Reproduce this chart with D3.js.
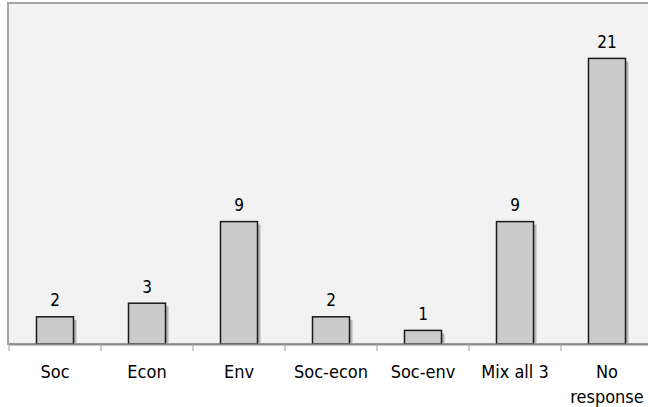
<!DOCTYPE html>
<html><head><meta charset="utf-8">
<script src="https://cdn.jsdelivr.net/npm/d3@7"></script>
<style>body{margin:0;background:#fff;}svg{display:block;}</style>
</head><body>
<script>
const categories = ["Soc","Econ","Env","Soc-econ","Soc-env","Mix all 3","No response"];
const values = [2,3,9,2,1,9,21];
const yMax = 25;

(function(){
const W = 648, H = 407;
const mLeft = 9, mTop = 4, mBottom = 344, bandW = 92;
const font = "'DejaVu Sans Condensed', 'DejaVu Sans', sans-serif";
const svg = d3.select("body").append("svg").attr("width", W).attr("height", H);

const x = d3.scaleBand().domain(categories).range([mLeft, mLeft + bandW * categories.length]).paddingInner(0).paddingOuter(0);
const y = d3.scaleLinear().domain([0, yMax]).range([mBottom, mTop]);

svg.append("rect").attr("x", mLeft - 1).attr("y", mTop - 1).attr("width", W).attr("height", mBottom - mTop + 1)
  .attr("fill", "#f2f2f2").attr("stroke", "#a6a6a6").attr("stroke-width", 2);

const barW = 37;
const g = svg.append("g");
g.selectAll("rect.sh").data(values).join("rect").attr("class","sh")
  .attr("x", (d,i) => x(categories[i]) + x.bandwidth()/2 - barW/2 + 3)
  .attr("y", d => y(d) + 3)
  .attr("width", barW).attr("height", d => mBottom - y(d) - 3)
  .attr("fill", "#b4b4b4");
g.selectAll("rect.bar").data(values).join("rect").attr("class","bar")
  .attr("x", (d,i) => x(categories[i]) + x.bandwidth()/2 - barW/2)
  .attr("y", d => y(d))
  .attr("width", barW).attr("height", d => mBottom - y(d))
  .attr("fill", "#cbcbcb").attr("stroke", "#1a1a1a").attr("stroke-width", 1.5);

g.selectAll("text.val").data(values).join("text").attr("class","val")
  .attr("x", (d,i) => x(categories[i]) + x.bandwidth()/2)
  .attr("y", d => y(d) - 10.5)
  .attr("text-anchor", "middle")
  .attr("font-family", font).attr("font-size", 17).attr("fill", "#000")
  .text(d => d);

const axis = d3.axisBottom(x).tickSize(0).tickFormat("");
const ax = svg.append("g").attr("transform", `translate(0,${mBottom})`).call(axis);
ax.select(".domain").attr("stroke", "#8c8c8c").attr("stroke-width", 2);
const bounds = d3.range(categories.length + 1).map(i => mLeft + i * x.step());
svg.append("g").selectAll("line").data(bounds).join("line")
  .attr("x1", d => d).attr("x2", d => d).attr("y1", mBottom).attr("y2", mBottom + 7)
  .attr("stroke", "#a0a0a0").attr("stroke-width", 1);

const lbl = svg.append("g").selectAll("text").data(categories).join("text")
  .attr("x", d => x(d) + x.bandwidth()/2).attr("y", 378)
  .attr("text-anchor", "middle")
  .attr("font-family", font).attr("font-size", 18).attr("fill", "#000");
lbl.each(function(d){
  const t = d3.select(this);
  const parts = d === "No response" ? ["No","response"] : [d];
  parts.forEach((p,i) => t.append("tspan").attr("x", t.attr("x")).attr("dy", i === 0 ? 0 : 25).text(p));
});
})();
</script>
</body></html>
